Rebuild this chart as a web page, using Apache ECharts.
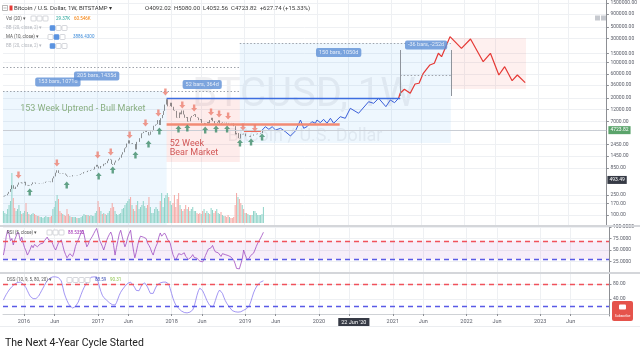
<!DOCTYPE html>
<html>
<head>
<meta charset="utf-8">
<title>BTCUSD 1W</title>
<script src="https://cdn.jsdelivr.net/npm/echarts@6/dist/echarts.min.js"></script>
<style>
  html, body { margin: 0; padding: 0; background: #fff; }
  #chart { width: 640px; height: 351px; }
</style>
</head>
<body>
<div id="chart"></div>
<script>
// weekly bars (Bitstamp), first bar starts 2015-09-21
const firstOpen = 228
const closes = [
  232, 240, 245, 262, 285, 325, 385, 330, 325, 360, 395, 435, 440, 420, 430,
  450, 382, 390, 376, 384, 405, 438, 434, 412, 412, 408, 417, 420, 422, 430, 450, 455,
  460, 455, 442, 527, 575, 680, 760, 670, 660, 650, 665, 655, 624, 590, 570, 580, 575, 608,
  608, 610, 603, 612, 618, 640, 655, 700, 705, 700, 740, 735, 765, 775, 790, 890, 970,
  900, 825, 920, 915, 1015, 1000, 1050, 1170, 1270, 1230, 1010, 970, 1080, 1180, 1180, 1240, 1340,
  1550, 1720, 2050, 2150, 2550, 2950, 2550, 2600, 2500, 2500, 1950, 2750, 2750, 3250,
  4050, 4100, 4350, 4600, 4300, 3700, 3800, 4400, 4600, 5700, 6000, 6150, 7400,
  5900, 8050, 9300, 11200, 14900, 19000, 13800, 13900,
  16200, 13500, 11500, 11200, 8200, 8100, 10400, 9600, 11400, 9500, 8200, 8500, 6900,
  7000, 8300, 8900, 9300, 9650, 8500, 8250, 7350, 7700, 6500, 6500, 6100, 6400,
  6750, 6350, 7400, 8200, 7050, 6300, 6400, 6700, 7300, 6250, 6500, 6700, 6600,
  6580, 6300, 6500, 6480, 6400, 6350, 5600, 3850, 4100, 3250, 3200, 3950, 3850, 4000,
  3550, 3550, 3550, 3450, 3650, 3650, 3850, 3850, 3900, 4000, 4000, 4096.08, 4723.82
]
const volumes = [
  12, 10, 9, 14, 18, 22, 50, 25, 15, 12, 14, 18, 12, 9, 10,
  12, 20, 11, 9, 8, 9, 10, 9, 8, 7, 7, 6, 6, 5, 6, 7, 6,
  6, 6, 7, 14, 16, 22, 28, 24, 12, 10, 9, 8, 7, 14, 9, 7, 6, 6,
  6, 6, 5, 5, 5, 6, 7, 9, 8, 8, 8, 7, 8, 7, 7, 10, 12,
  22, 16, 12, 9, 10, 9, 8, 10, 12, 15, 20, 16, 12, 9, 8, 9, 10,
  14, 15, 18, 20, 22, 24, 26, 18, 14, 12, 18, 22, 14, 16,
  18, 22, 17, 15, 18, 26, 16, 10, 10, 14, 16, 14, 12,
  22, 30, 16, 25, 28, 30, 26, 22,
  18, 20, 28, 16, 24, 30, 18, 14, 12, 14, 18, 14, 16,
  12, 14, 16, 12, 12, 10, 9, 10, 9, 12, 14, 10, 12,
  10, 9, 15, 13, 10, 12, 14, 10, 9, 11, 8, 7, 7,
  6, 8, 6, 5, 5, 6, 18, 30, 26, 24, 20, 18, 14, 10,
  10, 9, 8, 8, 8, 12, 12, 10, 8, 8, 8, 9, 16
]
const rsiValues = [
  39, 55, 80, 93, 85, 70, 75, 61, 72, 80,
  89, 84, 70, 78, 65, 55, 48, 39, 45, 52,
  60, 55, 62, 58, 57, 60, 63, 60, 65, 70,
  74, 78, 72, 76, 70, 62, 55, 50, 58, 66,
  70, 72, 60, 48, 40, 33, 36, 42, 38, 36,
  45, 58, 66, 72, 80, 88, 93, 85, 70, 57,
  62, 70, 75, 80, 86, 92, 97, 85, 72, 65,
  58, 50, 60, 70, 78, 84, 89, 80, 60, 39,
  55, 70, 85, 93, 80, 68, 57, 65, 78, 86,
  93, 70, 50, 33, 45, 60, 72, 80, 76, 78,
  82, 75, 65, 60, 54, 45, 39, 50, 58, 65,
  78, 87, 80, 84, 87, 82, 74, 70, 65, 52,
  40, 33, 28, 35, 42, 46, 40, 38, 44, 36,
  32, 30, 28, 35, 40, 34, 30, 32, 28, 26,
  30, 24, 30, 38, 45, 52, 48, 55, 60, 52,
  46, 42, 44, 40, 36, 42, 45, 40, 44, 38,
  40, 35, 32, 28, 20, 10, 7, 9, 7, 30,
  50, 40, 33, 28, 32, 38, 40, 43, 50, 58,
  65, 70, 76, 82, 88.54
]
const dssValues = [
  37, 45, 52, 58, 64, 69, 73, 77, 80, 82,
  84, 85, 85, 83, 80, 77, 70, 62, 54, 47,
  43, 41, 40, 41, 43, 48, 55, 62, 69, 76,
  83, 89, 93, 96, 98, 99, 99, 99, 98, 97,
  96, 88, 72, 56, 45, 36, 28, 22, 18, 16,
  17, 20, 24, 32, 42, 52, 62, 70, 77, 84,
  90, 95, 98, 99, 99, 99, 99, 86, 72, 60,
  50, 44, 40, 37, 33, 30, 27, 25, 24, 24,
  30, 40, 50, 58, 64, 69, 74, 78, 82, 84,
  85, 82, 76, 70, 63, 59, 62, 70, 78, 82,
  83, 80, 72, 63, 55, 51, 55, 64, 72, 78,
  82, 83, 84, 85, 85, 85, 85, 80, 68, 55,
  42, 32, 24, 19, 15, 11, 8, 6, 4, 3,
  3, 3, 5, 8, 11, 20, 35, 50, 62, 69,
  68, 62, 54, 45, 36, 29, 23, 20, 19, 25,
  36, 48, 58, 64, 62, 55, 45, 36, 29, 24,
  18, 13, 9, 7, 6, 5, 5, 5, 6, 8,
  10, 12, 14, 16, 22, 32, 44, 56, 65, 72,
  78, 82, 85, 87, 88.59
]

// projected path after the last bar
const blueProjection = [
  ['2019-04-01', 4710], ['2019-04-16', 5470], ['2019-05-04', 4865], ['2019-05-20', 5470],
  ['2019-06-06', 4710], ['2019-07-01', 5090], ['2019-07-25', 4365], ['2019-08-19', 3590],
  ['2019-09-13', 4510], ['2019-10-08', 7410], ['2019-10-24', 5090], ['2019-11-09', 5470],
  ['2019-12-04', 6870], ['2019-12-21', 6385], ['2019-12-29', 7410], ['2020-01-15', 6560],
  ['2020-01-31', 7650], ['2020-02-17', 6385], ['2020-03-05', 8010], ['2020-03-21', 6385],
  ['2020-04-23', 8610], ['2020-05-18', 8010], ['2020-06-12', 12590], ['2020-07-23', 10050],
  ['2020-09-11', 16980], ['2020-10-06', 15800], ['2020-10-31', 19820], ['2020-12-06', 13550],
  ['2020-12-28', 18360], ['2021-01-18', 16250], ['2021-02-07', 19820]
]
const redProjection = [
  ['2021-02-07', 19820], ['2021-02-15', 24890], ['2021-03-08', 29800], ['2021-04-06', 24890],
  ['2021-04-30', 37900], ['2021-05-20', 39150], ['2021-06-10', 61500], ['2021-07-13', 89700],
  ['2021-08-04', 96900], ['2021-08-24', 152500], ['2021-09-09', 130600], ['2021-10-21', 323600],
  ['2021-12-17', 191100], ['2022-01-31', 291600], ['2022-04-04', 104200], ['2022-05-10', 152500],
  ['2022-06-21', 57000], ['2022-07-20', 83000], ['2022-08-26', 44000], ['2022-09-21', 57000],
  ['2022-10-30', 40200]
]

// pivot arrows
const arrowsDown = [
  ['2015-12-05', 612], ['2016-06-13', 1057], ['2017-01-02', 1518], ['2017-03-08', 1738],
  ['2017-06-10', 3758], ['2017-08-28', 6470], ['2017-10-31', 10190], ['2017-12-05', 26360],
  ['2018-02-27', 14620], ['2018-04-27', 12760], ['2018-07-20', 10660], ['2018-08-29', 9730],
  ['2018-10-13', 8890], ['2018-12-26', 5400], ['2019-02-23', 5170]
]
const arrowsUp = [
  ['2016-01-30', 284], ['2016-08-01', 390], ['2017-01-07', 586], ['2017-03-18', 769],
  ['2017-07-09', 1518], ['2017-09-12', 2500], ['2017-11-05', 4510], ['2018-02-08', 4930],
  ['2018-03-24', 5170], ['2018-06-21', 4710], ['2018-08-14', 4930], ['2018-10-08', 4930],
  ['2018-12-11', 2615], ['2019-02-04', 2735], ['2019-03-31', 3430]
]

// drawings: [from, to, top price, bottom price]
const bullBox = ['2015-09-19', '2017-12-11', 27600, 63.5]
const bearBox = ['2017-12-11', '2018-12-10', 19800, 1100]
const cycleBox = ['2018-12-10', '2021-10-25', 243000, 2610]
const nextBearBox = ['2021-10-25', '2022-11-03', 305000, 30200]
const dottedLevels = [
  ['2015-09-19', '2018-12-10', 81900],
  ['2015-09-19', '2018-12-10', 27600],
  ['2018-12-10', '2021-10-25', 243000],
  ['2021-02-15', '2021-10-25', 57000]
]
const rangeEdges = [['2021-02-15', 22000, 177000], ['2021-10-25', 22000, 177000]]
const peakLevel = ['2017-12-11', '2021-02-15', 19800]
const supportLevel = ['2017-12-11', '2020-04-20', 6000]
const smallLevel = ['2018-12-31', '2019-03-25', 4510]
const measureTags = [
  ['153 bars, 1071d', '2016-06-18', 41500],
  ['205 bars, 1435d', '2016-12-28', 54500],
  ['52 bars, 364d', '2018-06-06', 37100],
  ['150 bars, 1050d', '2020-04-15', 158200],
  ['-36 bars, -252d', '2021-06-24', 222000]
]
const noteBull = ['153 Week Uptrend - Bull Market', '2015-12-11', 12200]
const noteBear = ['52 Week\nBear Market', '2017-12-24', 2040]
const lastPrice = 4723.82
const crossPrice = 493.49
const crossDate = '2020-06-22'

// axis ticks
const priceTicks = [100, 170, 250, 850, 1450, 2450, 7000, 12000, 20000, 36000, 60000,
  100000, 150000, 300000, 500000, 900000, 1500000]
const rsiTicks = [25, 50, 75, 100]
const dssTicks = [40, 80]
const timeTicks = ['2016-01-01', '2016-06-01', '2017-01-01', '2017-06-01', '2018-01-01', '2018-06-01',
  '2019-01-01', '2019-06-01', '2020-01-01', '2020-06-01', '2021-01-01', '2021-06-01',
  '2022-01-01', '2022-06-01', '2023-01-01', '2023-06-01']

const lg = v => Math.log10(v)
const ts = s => {
  const [y, m, d] = s.split('-').map(Number)
  return new Date(y, m - 1, d).getTime()
}

const weeks = closes.map((c, i) => new Date(2015, 8, 21 + i * 7).getTime())
const xMin = ts('2015-09-19')
const xMax = ts('2023-12-08')
const yMin = 1.803
const yMax = 6.232
const xTickValues = timeTicks.map(ts)
const grid = '#eef0f3'
const axisGray = '#8d8f94'
const labelGray = '#5d606b'
const clear = 'rgba(0,0,0,0)'
const font = 'Roboto, sans-serif'

const candles = closes.map((c, i) => {
  const o = i === 0 ? firstOpen : closes[i - 1]
  return [weeks[i], lg(o), lg(c), lg(Math.min(o, c)), lg(Math.max(o, c))]
})
const volumeBars = volumes.map((v, i) => {
  const o = i === 0 ? firstOpen : closes[i - 1]
  return {value: [weeks[i], v], itemStyle: {color: closes[i] >= o ? '#8fd3c8' : '#f4a8a4'}}
})

const box = (b, color) => [
  {xAxis: ts(b[0]), yAxis: lg(b[2]), itemStyle: {color}},
  {xAxis: ts(b[1]), yAxis: lg(b[3])}
]
const seg = (x1, y1, x2, y2, lineStyle) => [
  {coord: [ts(x1), lg(y1)], lineStyle},
  {coord: [ts(x2), lg(y2)]}
]

const timeFormatter = v => {
  const d = new Date(v)
  return d.getMonth() === 0 ? String(d.getFullYear()) : 'Jun'
}

// time runs on a value axis (timestamps) so the tick positions can be given directly
const plainX = (gridIndex) => ({
  type: 'value', gridIndex, min: xMin, max: xMax,
  axisLine: {show: false},
  axisTick: {show: false, customValues: xTickValues},
  axisLabel: {show: false, customValues: xTickValues},
  splitLine: {show: true, lineStyle: {color: grid, width: 1}}
})

const rightY = (gridIndex, min, max, ticks, formatter) => ({
  type: 'value', gridIndex, position: 'right', min, max,
  axisLine: {show: true, lineStyle: {color: axisGray, width: 1}},
  axisTick: {show: true, length: 2.5, lineStyle: {color: axisGray}, customValues: ticks},
  axisLabel: {fontSize: 5, color: labelGray, margin: 4, fontFamily: font, customValues: ticks, formatter},
  splitLine: {show: true, lineStyle: {color: grid, width: 1}}
})

const txt = (x, y, text, size, color) => ({
  type: 'text', z: 50, x, y,
  style: {text, fontSize: size, fontFamily: font, fill: color, verticalAlign: 'middle'}
})
const icons = (x, y, n, blue) => Array.from({length: n}, (_, k) => ({
  type: 'rect', z: 50,
  shape: {x: x + k * 6, y: y - 2.5, width: 5, height: 5, r: 0.8},
  style: {fill: k === blue ? '#5b93e0' : '#fff', stroke: k === blue ? '#5b93e0' : '#b8bcc4', lineWidth: 0.6}
}))

const graphics = [
  {type: 'text', z: 0, x: 304, y: 96,
    style: {text: 'BTCUSD, 1W', fontSize: 40, fontFamily: font, fill: 'rgba(120,126,140,0.12)', align: 'center', verticalAlign: 'middle'}},
  {type: 'text', z: 0, x: 305, y: 136,
    style: {text: 'Bitcoin / U.S. Dollar', fontSize: 18, fontFamily: font, fill: 'rgba(120,126,140,0.12)', align: 'center', verticalAlign: 'middle'}},
  {type: 'rect', z: 50, shape: {x: 2.5, y: 5.5, width: 5, height: 5}, style: {fill: '#fff', stroke: '#888', lineWidth: 0.6}},
  {type: 'line', z: 51, shape: {x1: 3.5, y1: 8, x2: 6.5, y2: 8}, style: {stroke: '#888', lineWidth: 0.6}},
  {type: 'rect', z: 50, shape: {x: 9.5, y: 5.5, width: 3, height: 5}, style: {fill: '#e53935'}},
  txt(14, 8, 'Bitcoin / U.S. Dollar, 1W, BITSTAMP ▾', 6, '#333'),
  txt(145, 8, 'O4092.02  H5080.00  L4052.56  C4723.82  +627.74 (+15.33%)', 6, '#3a3a3a'),
  txt(6, 18.5, 'Vol (20) ▾', 4.5, '#555'),
  ...icons(31, 18.5, 3, -1),
  txt(56, 18.5, '29.37K', 4.5, '#26a69a'),
  txt(74, 18.5, '60.546K', 4.5, '#f57c00'),
  txt(6, 28, 'BB (20, close, 2) ▾', 4.5, '#b5b8bf'),
  ...icons(50, 28, 3, 0),
  txt(6, 37, 'MA (10, close) ▾', 4.5, '#555'),
  ...icons(48, 37, 3, 1),
  txt(73, 37, '3886.4300', 4.5, '#3d8bd9'),
  txt(6, 46, 'BB (20, close, 2) ▾', 4.5, '#b5b8bf'),
  ...icons(50, 46, 3, 0),
  {type: 'rect', z: 50, shape: {x: 595, y: 15.5, width: 5, height: 5}, style: {fill: '#c6c9cf'}},
  {type: 'rect', z: 50, shape: {x: 601, y: 15.5, width: 5, height: 5}, style: {fill: '#c6c9cf'}},
  txt(7, 232.5, 'RSI (5, close) ▾', 4.5, '#555'),
  ...icons(47, 232.5, 3, -1),
  txt(68, 232.5, '88.5352', 4.5, '#9c27b0'),
  txt(7, 280, 'DSS (10, 9, 5, 80, 20) ▾', 4.5, '#555'),
  ...icons(67, 280, 4, -1),
  txt(95, 280, '88.59', 4.5, '#3f51b5'),
  txt(110, 280, '90.31', 4.5, '#8bc34a'),
  {type: 'line', z: 40, shape: {x1: 0, y1: 226, x2: 640, y2: 226}, style: {stroke: '#d4d6da', lineWidth: 2}},
  {type: 'line', z: 40, shape: {x1: 0, y1: 273, x2: 640, y2: 273}, style: {stroke: '#d4d6da', lineWidth: 2}},
  {type: 'line', z: 40, shape: {x1: 0, y1: 326.5, x2: 640, y2: 326.5}, style: {stroke: '#ebedf0', lineWidth: 1}},
  {type: 'rect', z: 60, shape: {x: 612, y: 301, width: 21, height: 20, r: 2}, style: {fill: '#e5534b'}},
  {type: 'rect', z: 61, shape: {x: 619, y: 304.5, width: 7, height: 5, r: 1}, style: {fill: '#fff'}},
  {type: 'text', z: 61, x: 622.5, y: 316,
    style: {text: 'Subscribe', fontSize: 3.5, fontFamily: font, fill: '#fff', align: 'center', verticalAlign: 'middle'}},
  {type: 'text', z: 50, x: 5, y: 343,
    style: {text: 'The Next 4-Year Cycle Started', fontSize: 10.5, fontFamily: font, fill: '#222', verticalAlign: 'middle'}}
]

const chart = echarts.init(document.getElementById('chart'))

const option = {
  animation: false,
  backgroundColor: '#fff',
  textStyle: {fontFamily: font},
  graphic: graphics,
  grid: [
    {left: 3, right: 31, top: 0, height: 225},
    {left: 3, right: 31, top: 163, height: 60},
    {left: 3, right: 31, top: 227, height: 45},
    {left: 3, right: 31, top: 274, height: 42}
  ],
  xAxis: [
    plainX(0),
    {type: 'value', gridIndex: 1, min: xMin, max: xMax, show: false},
    plainX(2),
    {
      type: 'value', gridIndex: 3, min: xMin, max: xMax,
      axisLine: {show: true, lineStyle: {color: '#cfd2d6'}},
      axisTick: {show: true, length: 2, lineStyle: {color: axisGray}, customValues: xTickValues},
      axisLabel: {fontSize: 5.5, color: labelGray, margin: 3, fontFamily: font, customValues: xTickValues, formatter: timeFormatter},
      splitLine: {show: true, lineStyle: {color: grid, width: 1}}
    }
  ],
  yAxis: [
    rightY(0, yMin, yMax, priceTicks.map(lg), v => Math.pow(10, v).toFixed(2)),
    {type: 'value', gridIndex: 1, min: 0, max: 60, show: false},
    rightY(2, 2.2, 100, rsiTicks, v => v.toFixed(4)),
    rightY(3, -5.3, 106.7, dssTicks, v => v.toFixed(2))
  ],
  series: [
    {
      name: 'drawings', type: 'line', xAxisIndex: 0, yAxisIndex: 0, data: [], silent: true,
      markArea: {
        silent: true,
        data: [
          box(bullBox, 'rgba(33,150,243,0.08)'),
          box(bearBox, 'rgba(244,67,54,0.10)'),
          box(cycleBox, 'rgba(33,150,243,0.08)'),
          box(nextBearBox, 'rgba(244,67,54,0.08)')
        ]
      },
      markLine: {
        silent: true, symbol: 'none', label: {show: false}, emphasis: {disabled: true},
        data: [
          ...dottedLevels.map(d => seg(d[0], d[2], d[1], d[2], {color: '#9ea3ab', type: [1.5, 2], width: 1})),
          ...rangeEdges.map(d => seg(d[0], d[1], d[0], d[2], {color: '#8f949c', type: 'solid', width: 1})),
          seg(supportLevel[0], supportLevel[2], supportLevel[1], supportLevel[2], {color: '#f28b74', type: 'solid', width: 2.5}),
          seg(smallLevel[0], smallLevel[2], smallLevel[1], smallLevel[2], {color: '#ef6b5b', type: 'solid', width: 1}),
          seg(peakLevel[0], peakLevel[2], peakLevel[1], peakLevel[2], {color: '#3d6ee0', type: 'solid', width: 1.3}),
          {
            yAxis: lg(lastPrice), lineStyle: {color: '#c9cdd4', type: 'solid', width: 1},
            label: {show: true, position: 'end', distance: 2, formatter: lastPrice.toFixed(2), color: '#fff',
              backgroundColor: '#5ba46b', fontSize: 5, padding: [1.5, 2], fontFamily: font}
          },
          {
            yAxis: lg(crossPrice), lineStyle: {color: clear, type: 'solid', width: 1},
            label: {show: true, position: 'end', distance: 1, formatter: crossPrice.toFixed(2), color: '#fff',
              backgroundColor: '#363a45', fontSize: 5, padding: [1.5, 2], fontFamily: font}
          }
        ]
      }
    },
    {
      name: 'BTCUSD', type: 'candlestick', xAxisIndex: 0, yAxisIndex: 0, z: 3,
      dimensions: ['time', 'open', 'close', 'lowest', 'highest'],
      encode: {x: 'time', y: ['open', 'close', 'lowest', 'highest']},
      data: candles, barWidth: 1.2,
      itemStyle: {color: '#5aa872', color0: '#e2574c', borderColor: '#2b2b2b', borderColor0: '#2b2b2b', borderWidth: 0.5}
    },
    {
      name: 'Volume', type: 'bar', xAxisIndex: 1, yAxisIndex: 1, z: 2,
      data: volumeBars, barWidth: 1
    },
    {
      name: 'Projection', type: 'line', xAxisIndex: 0, yAxisIndex: 0, z: 4, showSymbol: false,
      data: blueProjection.map(p => [ts(p[0]), lg(p[1])]),
      lineStyle: {color: '#3b5fd9', width: 1}
    },
    {
      name: 'Next cycle', type: 'line', xAxisIndex: 0, yAxisIndex: 0, z: 4, showSymbol: false,
      data: redProjection.map(p => [ts(p[0]), lg(p[1])]),
      lineStyle: {color: '#e53935', width: 1.2}
    },
    {
      name: 'Pivot high', type: 'scatter', xAxisIndex: 0, yAxisIndex: 0, z: 5,
      symbol: 'path://M3,0H7V5H10L5,10L0,5H3Z', symbolSize: [6, 7],
      itemStyle: {color: '#ec7f71'},
      data: arrowsDown.map(p => [ts(p[0]), lg(p[1])])
    },
    {
      name: 'Pivot low', type: 'scatter', xAxisIndex: 0, yAxisIndex: 0, z: 5,
      symbol: 'path://M5,0L10,5H7V10H3V5H0Z', symbolSize: [6, 7],
      itemStyle: {color: '#3e8c69'},
      data: arrowsUp.map(p => [ts(p[0]), lg(p[1])])
    },
    {
      name: 'Ranges', type: 'scatter', xAxisIndex: 0, yAxisIndex: 0, z: 6, symbolSize: 1,
      itemStyle: {color: clear},
      label: {show: true, position: 'inside', formatter: p => p.name, color: '#fff', backgroundColor: '#5c8fd6',
        borderRadius: 2, padding: [1.5, 3], fontSize: 5.5, fontFamily: font},
      data: measureTags.map(m => ({name: m[0], value: [ts(m[1]), lg(m[2])]}))
    },
    {
      name: 'Notes', type: 'scatter', xAxisIndex: 0, yAxisIndex: 0, z: 6, symbolSize: 1,
      itemStyle: {color: clear},
      data: [
        {name: noteBull[0], value: [ts(noteBull[1]), lg(noteBull[2])],
          label: {show: true, position: 'right', distance: 0, formatter: p => p.name, color: '#6f9c62', fontSize: 9, fontFamily: font}},
        {name: noteBear[0], value: [ts(noteBear[1]), lg(noteBear[2])],
          label: {show: true, position: 'right', distance: 0, formatter: p => p.name, color: '#c62f2f', fontSize: 9, lineHeight: 9, fontFamily: font}}
      ]
    },
    {
      name: 'RSI', type: 'line', xAxisIndex: 2, yAxisIndex: 2, showSymbol: false, z: 4,
      data: rsiValues.map((v, i) => [weeks[i], v]),
      lineStyle: {color: '#a04cc0', width: 0.8},
      markArea: {silent: true, data: [[{yAxis: 30, itemStyle: {color: 'rgba(156,39,176,0.08)'}}, {yAxis: 70}]]},
      markLine: {
        silent: true, symbol: 'none', label: {show: false},
        data: [
          {yAxis: 70, lineStyle: {color: '#f0525b', type: [5, 4], width: 1.3}},
          {yAxis: 30, lineStyle: {color: '#5a5ae6', type: [5, 4], width: 1.3}}
        ]
      }
    },
    {
      name: 'DSS', type: 'line', xAxisIndex: 3, yAxisIndex: 3, showSymbol: false, z: 4,
      data: dssValues.map((v, i) => [weeks[i], v]),
      lineStyle: {color: '#8c7cf0', width: 0.8},
      markLine: {
        silent: true, symbol: 'none', label: {show: false},
        data: [
          {yAxis: 80, lineStyle: {color: '#f0525b', type: [5, 4], width: 1.3}},
          {yAxis: 20, lineStyle: {color: '#5a5ae6', type: [5, 4], width: 1.3}},
          {
            xAxis: ts(crossDate), lineStyle: {color: clear, type: 'solid', width: 1},
            label: {show: true, position: 'start', distance: 2, formatter: "22 Jun '20", color: '#fff',
              backgroundColor: '#363a45', fontSize: 5.5, padding: [1.5, 3], fontFamily: font}
          }
        ]
      }
    }
  ]
}

chart.setOption(option)
window.addEventListener('resize', () => chart.resize())
</script>
</body>
</html>
